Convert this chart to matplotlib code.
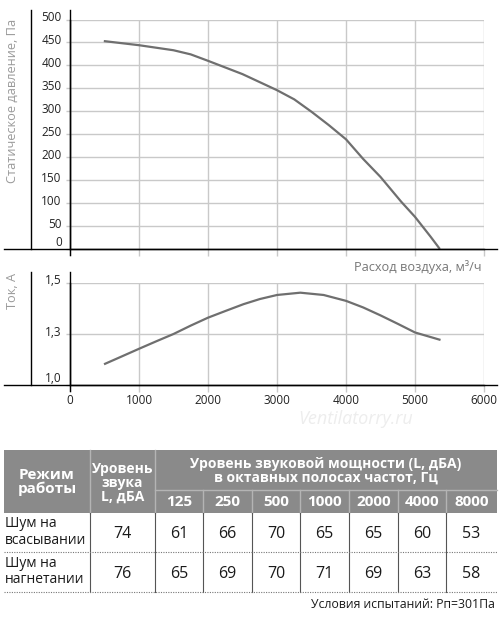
import numpy as np
import matplotlib
matplotlib.use('Agg')
import matplotlib.pyplot as plt
from matplotlib.lines import Line2D
from matplotlib.patches import Rectangle
import matplotlib.transforms as mtransforms

plt.rcParams['font.family'] = ['Open Sans', 'DejaVu Sans']

# --- данные ---
q_pressure = [490, 1000, 1500, 1750, 2000, 2500, 3000, 3250, 3500, 3750, 4000,
              4250, 4500, 4800, 5000, 5225, 5360]
pressure = [453, 444, 433, 424, 410, 381, 346, 326, 299, 270, 239,
            196, 157, 103, 70, 27, 0]

q_current = [493, 750, 1000, 1250, 1500, 1750, 2000, 2250, 2515, 2750, 3000, 3338,
             3676, 4000, 4250, 4500, 4750, 5000, 5370]
current = [1.122, 1.168, 1.213, 1.257, 1.300, 1.333, 1.364, 1.390, 1.417, 1.437, 1.453, 1.462,
           1.453, 1.430, 1.404, 1.373, 1.340, 1.306, 1.265]

x_ticks = [0, 1000, 2000, 3000, 4000, 5000, 6000]
p_ticks = [0, 50, 100, 150, 200, 250, 300, 350, 400, 450, 500]
i_ticks = [1.0, 1.3, 1.5]
i_tick_labels = ['1,0', '1,3', '1,5']

row_names = ['Шум на\nвсасывании', 'Шум на\nнагнетании']
total_level = [74, 76]
freqs = ['125', '250', '500', '1000', '2000', '4000', '8000']
octave_levels = [
    [61, 66, 70, 65, 65, 60, 53],
    [65, 69, 70, 71, 69, 63, 58],
]

W, H = 500, 622
fig = plt.figure(figsize=(W / 100, H / 100), dpi=100)

def box(x0, y0, x1, y1):
    return [x0 / W, 1 - y1 / H, (x1 - x0) / W, (y1 - y0) / H]

def fline(xs, ys, **kw):
    fig.add_artist(Line2D([x / W for x in xs], [1 - y / H for y in ys],
                          transform=fig.transFigure, **kw))

GRID = '#c9c9c9'
CURVE = '#6f6f6f'
LABEL = '#9a9a9a'
tick_font = ['Liberation Sans Narrow', 'Open Sans', 'DejaVu Sans']

def style_axes(ax):
    for s in ['top', 'right']:
        ax.spines[s].set_visible(False)
    ax.spines['left'].set_color('black')
    ax.spines['bottom'].set_color('black')
    ax.spines['left'].set_linewidth(1.0)
    ax.spines['bottom'].set_linewidth(1.0)
    ax.grid(True, color=GRID, linewidth=1.0)
    ax.set_axisbelow(True)
    ax.tick_params(axis='x', direction='out', length=5, color=GRID, width=1.0)
    ax.tick_params(axis='y', direction='out', length=3, color=GRID, width=1.0,
                   pad=3, labelsize=8.5, labelcolor='#222222')
    for lab in ax.get_yticklabels():
        lab.set_family(tick_font)

def raise_labels(ax):
    up = mtransforms.ScaledTranslation(0, 3.5 / 100, fig.dpi_scale_trans)
    labs = ax.get_yticklabels()
    for lab in labs:
        lab.set_transform(lab.get_transform() + up)
    labs[0].set_transform(labs[0].get_transform()
                          + mtransforms.ScaledTranslation(0, 4 / 100, fig.dpi_scale_trans))

# --- верхний график: давление ---
ax1 = fig.add_axes(box(70, 19.5, 484, 249))
ax1.plot(q_pressure, pressure, color=CURVE, linewidth=1.6, solid_capstyle='butt',
         solid_joinstyle='round')
ax1.set_xlim(0, 6000)
ax1.set_ylim(0, 500)
ax1.set_xticks(x_ticks)
ax1.set_yticks(p_ticks)
ax1.set_yticklabels([str(v) for v in p_ticks])
ax1.set_xticklabels([])
style_axes(ax1)
raise_labels(ax1)

# --- нижний график: ток ---
def fwd(v):
    return np.interp(v, [0.0, 1.0, 1.3, 1.5, 3.0], [-10 / 3, 0, 1, 2, 9.5])

def inv(u):
    return np.interp(u, [-10 / 3, 0, 1, 2, 9.5], [0.0, 1.0, 1.3, 1.5, 3.0])

ax2 = fig.add_axes(box(70, 283, 484, 385))
ax2.set_yscale('function', functions=(fwd, inv))
ax2.plot(q_current, current, color=CURVE, linewidth=1.6, solid_capstyle='butt',
         solid_joinstyle='round')
ax2.set_xlim(0, 6000)
ax2.set_ylim(1.0, 1.5)
ax2.set_xticks(x_ticks)
ax2.set_xticklabels([str(v) for v in x_ticks])
ax2.set_yticks(i_ticks)
ax2.set_yticklabels(i_tick_labels)
ax2.yaxis.set_minor_locator(matplotlib.ticker.NullLocator())
style_axes(ax2)
ax2.tick_params(axis='x', labelsize=8.5, labelcolor='#222222', pad=1.5)
for lab in ax2.get_xticklabels():
    lab.set_family(tick_font)
raise_labels(ax2)

# рамочные линии
fline([4, 497], [249, 249], color='black', linewidth=1.0)
fline([30.5, 30.5], [10, 249], color='black', linewidth=1.0)
fline([70, 70], [10, 255], color='black', linewidth=1.0)
fline([4, 497], [385, 385], color='black', linewidth=1.0)
fline([30.5, 30.5], [272, 385], color='black', linewidth=1.0)
fline([70, 70], [272, 391], color='black', linewidth=1.0)

fig.text(12 / W, 1 - 19 / H, 'Статическое давление, Па', rotation=90,
         ha='center', va='top', color=LABEL, fontsize=9.2)
fig.text(12 / W, 1 - 291 / H, 'Ток, А', rotation=90,
         ha='center', va='center', color=LABEL, fontsize=9.2)
fig.text(482 / W, 1 - 267 / H, 'Расход воздуха, м³/ч',
         ha='right', va='center', color='#777777', fontsize=9.2)
fig.text(356 / W, 1 - 419 / H, 'Ventilatorry.ru', ha='center', va='center',
         color='#ededed', fontsize=13, style='italic')

# --- таблица ---
tab = fig.add_axes([0, 0, 1, 1])
tab.set_xlim(0, W)
tab.set_ylim(H, 0)
tab.axis('off')

cols = [4, 90, 155, 203, 252, 300, 349, 398, 446, 497]
y_head, y_mid, y_hend = 450, 490, 513
row_bounds = [513, 552, 592]
HEAD = '#8a8a8a'
SEP = '#b4b4b4'

tab.add_patch(Rectangle((cols[0], y_head), cols[-1] - cols[0], y_hend - y_head,
                        facecolor=HEAD, edgecolor='none'))
for x in cols[1:3]:
    tab.plot([x, x], [y_head, y_hend], color=SEP, linewidth=1.0)
tab.plot([cols[2], cols[-1]], [y_mid, y_mid], color=SEP, linewidth=1.0)
for x in cols[3:-1]:
    tab.plot([x, x], [y_mid, y_hend], color=SEP, linewidth=1.0)

hk = dict(color='white', fontweight='bold', ha='center', va='center', linespacing=1.0)
tab.text((cols[0] + cols[1]) / 2, 482, 'Режим\nработы', fontsize=11, **hk)
tab.text((cols[1] + cols[2]) / 2, 483, 'Уровень\nзвука\nL, дБА', fontsize=10, **hk)
tab.text((cols[2] + cols[-1]) / 2, 471, 'Уровень звуковой мощности (L, дБА)\nв октавных полосах частот, Гц',
         fontsize=10, **hk)
for i, f in enumerate(freqs):
    tab.text((cols[2 + i] + cols[3 + i]) / 2, 502, f, fontsize=11, **hk)

for x in cols[1:-1]:
    tab.plot([x, x], [row_bounds[0], row_bounds[-1]], color='#555555', linewidth=0.8)
for y in row_bounds[1:]:
    tab.plot([cols[0], cols[-1]], [y, y], color='#777777', linewidth=0.8, linestyle=(0, (1, 1.2)))

for r, name in enumerate(row_names):
    yc = (row_bounds[r] + row_bounds[r + 1]) / 2
    tab.text(cols[0] + 1, yc - 0.5, name, ha='left', va='center', fontsize=10,
             color='#1a1a1a', linespacing=1.1)
    tab.text((cols[1] + cols[2]) / 2, yc + 1.5, str(total_level[r]), ha='center', va='center',
             fontsize=11.5, color='#1a1a1a')
    for i, v in enumerate(octave_levels[r]):
        tab.text((cols[2 + i] + cols[3 + i]) / 2, yc + 1.5, str(v), ha='center', va='center',
                 fontsize=11.5, color='#1a1a1a')

tab.text(495, 605, 'Условия испытаний: Рп=301Па', ha='right', va='center',
         fontsize=8.8, color='#1a1a1a')

fig.savefig('out.png', dpi=100)
